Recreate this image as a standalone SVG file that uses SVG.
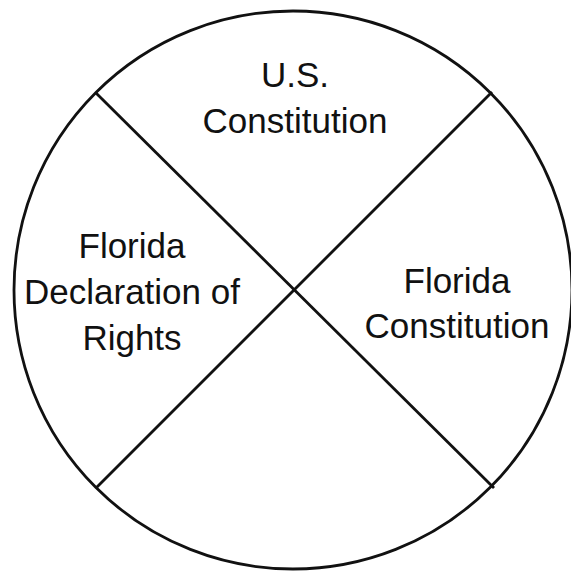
<svg xmlns="http://www.w3.org/2000/svg" width="571" height="575" viewBox="0 0 571 575">
<style>
.shape{fill:none;stroke:#111;stroke-width:2.8}
.lbl{font-family:"Liberation Sans",Arial,sans-serif;font-size:35px;fill:#111;text-anchor:middle}
</style>
<rect width="571" height="575" fill="#fff"/>
<g id="circle"><circle class="shape" cx="293" cy="290" r="279"/></g>
<g id="connectors">
<line class="shape" x1="96" y1="93" x2="494" y2="488"/>
<line class="shape" x1="492" y1="92" x2="96" y2="488"/>
</g>
<g id="us-constitution">
<text class="lbl" x="295" y="87">U.S.</text>
<text class="lbl" x="295" y="133">Constitution</text>
</g>
<g id="florida-constitution">
<text class="lbl" x="457" y="293">Florida</text>
<text class="lbl" x="457" y="338">Constitution</text>
</g>
<g id="florida-declaration">
<text class="lbl" x="132" y="258">Florida</text>
<text class="lbl" x="132" y="304">Declaration of</text>
<text class="lbl" x="132" y="350">Rights</text>
</g>
</svg>
